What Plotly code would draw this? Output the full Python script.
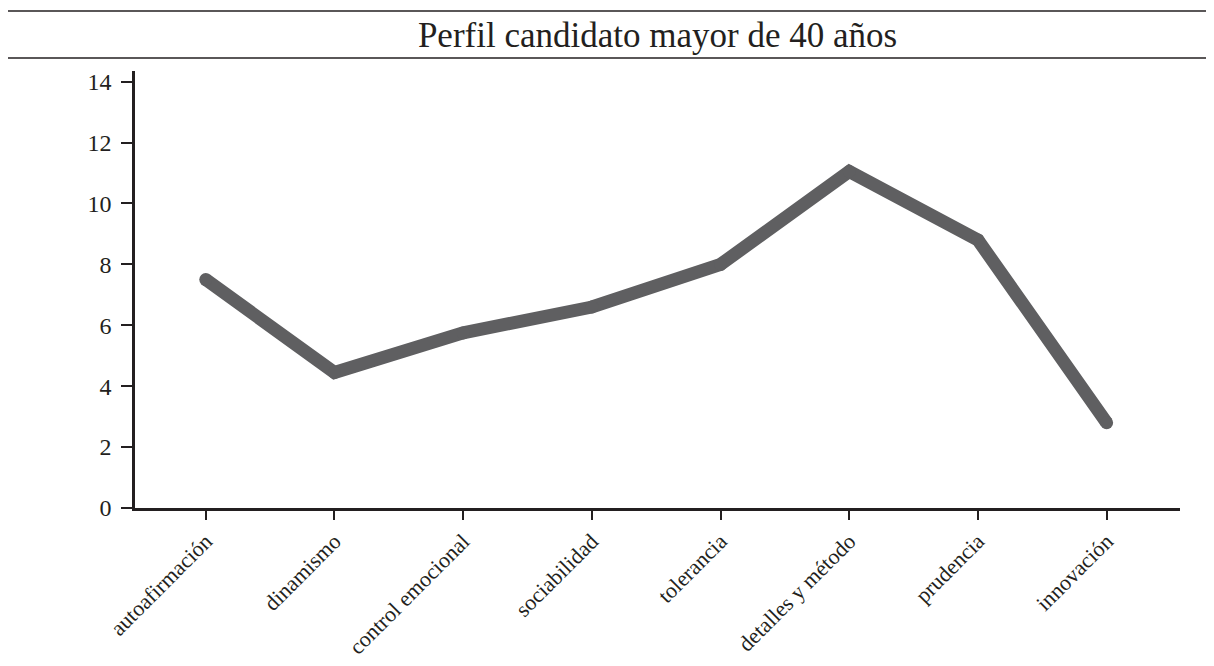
import plotly.graph_objects as go

categories = ["autoafirmación", "dinamismo", "control emocional", "sociabilidad",
              "tolerancia", "detalles y método", "prudencia", "innovación"]
values = [7.5, 4.45, 5.75, 6.6, 8.0, 11.05, 8.8, 2.8]
y_ticks = [0, 2, 4, 6, 8, 10, 12, 14]
title_text = "Perfil candidato mayor de 40 años"

FONT = "Liberation Serif, Times New Roman, serif"
AXIS_COLOR = "#231f20"
LINE_COLOR = "#5f5f61"

# page body has an 8px margin, so the figure is laid out 8px right/down
OFF = 8
L, T = 135 - OFF, 71 - OFF
PLOT_H = 437
B = 666 - (T + PLOT_H)
R = 1214 - (1180 - OFF)

fig = go.Figure()
fig.add_trace(go.Scatter(
    x=categories, y=values, mode="lines+markers",
    line=dict(color=LINE_COLOR, width=13),
    marker=dict(color=LINE_COLOR, size=13, line=dict(width=0)),
    hoverinfo="x+y", showlegend=False,
))

fig.update_layout(
    width=1214, height=666,
    margin=dict(l=L, r=R, t=T, b=B),
    paper_bgcolor="white", plot_bgcolor="white",
    font=dict(family=FONT, color=AXIS_COLOR),
    title=dict(text=title_text, x=0.5, xanchor="center", xref="paper",
               y=1 - (35 - OFF) / 666, yanchor="middle", yref="container",
               font=dict(family=FONT, size=35, color=AXIS_COLOR)),
    xaxis=dict(
        range=[-0.55, 7.57], showgrid=False, zeroline=False,
        showline=True, linecolor=AXIS_COLOR, linewidth=2.5,
        ticks="outside", ticklen=9, tickwidth=1.5, tickcolor=AXIS_COLOR,
        tickangle=-45, tickfont=dict(family=FONT, size=22, color=AXIS_COLOR),
    ),
    yaxis=dict(
        range=[0, 14.35], showgrid=False, zeroline=False,
        showline=True, linecolor=AXIS_COLOR, linewidth=2.5,
        ticks="outside", ticklen=11, tickwidth=1.5, tickcolor=AXIS_COLOR,
        ticklabelstandoff=5,
        tickvals=y_ticks, tickfont=dict(family=FONT, size=24, color=AXIS_COLOR),
    ),
    shapes=[
        dict(type="line", xref="paper", yref="paper", x0=-0.13, x1=1.05,
             y0=1 + (T - (11 - OFF)) / PLOT_H, y1=1 + (T - (11 - OFF)) / PLOT_H,
             line=dict(color=AXIS_COLOR, width=1.5)),
        dict(type="line", xref="paper", yref="paper", x0=-0.13, x1=1.05,
             y0=1 + (T - (58 - OFF)) / PLOT_H, y1=1 + (T - (58 - OFF)) / PLOT_H,
             line=dict(color=AXIS_COLOR, width=1.5)),
    ],
)

fig.write_html("out.html")
